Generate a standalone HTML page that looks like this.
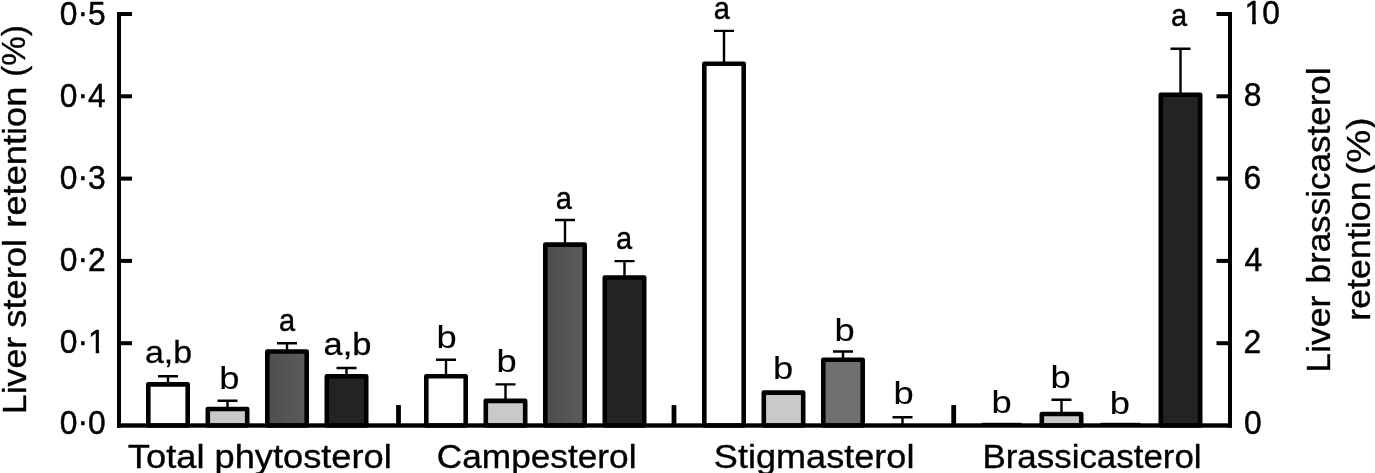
<!DOCTYPE html>
<html lang="en"><head><meta charset="utf-8"><title>Liver sterol retention</title>
<style>html,body{margin:0;padding:0;background:#fff}body{width:1375px;height:473px;overflow:hidden}svg{display:block}text{font-family:"Liberation Sans", Arial, Helvetica, sans-serif;fill:#000;stroke:#000}</style></head><body>
<svg width="1375" height="473" viewBox="0 0 1375 473">
<rect width="1375" height="473" fill="#fff"/>
<defs><linearGradient id="dg" x1="0" y1="0" x2="1" y2="0"><stop offset="0" stop-color="#4d4d4d"/><stop offset="1" stop-color="#5b5b5b"/></linearGradient></defs>
<path d="M168.0 384.4V376.2M158.0 376.2H178.0" stroke="#000" stroke-width="2.4" fill="none"/>
<rect x="148.30" y="384.40" width="39.40" height="41.10" fill="#ffffff" stroke="#000" stroke-width="4.6" stroke-linejoin="round"/>
<path d="M227.5 409.1V400.8M217.5 400.8H237.5" stroke="#000" stroke-width="2.4" fill="none"/>
<rect x="207.80" y="409.06" width="39.40" height="16.44" fill="#c9c9c9" stroke="#000" stroke-width="4.6" stroke-linejoin="round"/>
<path d="M287.0 351.5V343.3M277.0 343.3H297.0" stroke="#000" stroke-width="2.4" fill="none"/>
<rect x="267.30" y="351.52" width="39.40" height="73.98" fill="url(#dg)" stroke="#000" stroke-width="4.6" stroke-linejoin="round"/>
<path d="M346.5 376.2V368.0M336.5 368.0H356.5" stroke="#000" stroke-width="2.4" fill="none"/>
<rect x="326.80" y="376.18" width="39.40" height="49.32" fill="#232323" stroke="#000" stroke-width="4.6" stroke-linejoin="round"/>
<path d="M446.0 376.2V359.7M436.0 359.7H456.0" stroke="#000" stroke-width="2.4" fill="none"/>
<rect x="426.30" y="376.18" width="39.40" height="49.32" fill="#ffffff" stroke="#000" stroke-width="4.6" stroke-linejoin="round"/>
<path d="M505.5 400.8V384.4M495.5 384.4H515.5" stroke="#000" stroke-width="2.4" fill="none"/>
<rect x="485.80" y="400.84" width="39.40" height="24.66" fill="#c9c9c9" stroke="#000" stroke-width="4.6" stroke-linejoin="round"/>
<path d="M565.0 244.7V220.0M555.0 220.0H575.0" stroke="#000" stroke-width="2.4" fill="none"/>
<rect x="545.30" y="244.66" width="39.40" height="180.84" fill="url(#dg)" stroke="#000" stroke-width="4.6" stroke-linejoin="round"/>
<path d="M624.5 277.5V261.1M614.5 261.1H634.5" stroke="#000" stroke-width="2.4" fill="none"/>
<rect x="604.80" y="277.54" width="39.40" height="147.96" fill="#232323" stroke="#000" stroke-width="4.6" stroke-linejoin="round"/>
<path d="M724.0 63.8V30.9M714.0 30.9H734.0" stroke="#000" stroke-width="2.4" fill="none"/>
<rect x="704.30" y="63.82" width="39.40" height="361.68" fill="#ffffff" stroke="#000" stroke-width="4.6" stroke-linejoin="round"/>
<rect x="763.80" y="392.62" width="39.40" height="32.88" fill="#c9c9c9" stroke="#000" stroke-width="4.6" stroke-linejoin="round"/>
<path d="M843.0 359.7V351.5M833.0 351.5H853.0" stroke="#000" stroke-width="2.4" fill="none"/>
<rect x="823.30" y="359.74" width="39.40" height="65.76" fill="#707070" stroke="#000" stroke-width="4.6" stroke-linejoin="round"/>
<path d="M902.5 425.5V417.3M892.5 417.3H912.5" stroke="#000" stroke-width="2.4" fill="none"/>
<path d="M1061.5 414.0V399.7M1051.5 399.7H1071.5" stroke="#000" stroke-width="2.4" fill="none"/>
<rect x="1041.80" y="413.99" width="39.40" height="11.51" fill="#c9c9c9" stroke="#000" stroke-width="4.6" stroke-linejoin="round"/>
<path d="M1180.5 94.8V48.7M1170.5 48.7H1190.5" stroke="#000" stroke-width="2.4" fill="none"/>
<rect x="1160.80" y="94.81" width="39.40" height="330.69" fill="#232323" stroke="#000" stroke-width="4.6" stroke-linejoin="round"/>
<g fill="#000">
<rect x="117" y="12" width="4" height="415.7"/>
<rect x="117" y="423.3" width="1115" height="4.4"/>
<rect x="1228" y="12" width="4" height="415.7"/>
<rect x="117" y="341.2" width="15" height="4"/>
<rect x="1216.5" y="341.2" width="15" height="4"/>
<rect x="117" y="258.9" width="15" height="4"/>
<rect x="1216.5" y="258.9" width="15" height="4"/>
<rect x="117" y="176.6" width="15" height="4"/>
<rect x="1216.5" y="176.6" width="15" height="4"/>
<rect x="117" y="94.3" width="15" height="4"/>
<rect x="1216.5" y="94.3" width="15" height="4"/>
<rect x="117" y="12.0" width="15" height="4"/>
<rect x="1216.5" y="12.0" width="15" height="4"/>
<rect x="396.1" y="405.1" width="4.8" height="20"/>
<rect x="671.6" y="405.1" width="4.8" height="20"/>
<rect x="951.3" y="405.1" width="4.8" height="20"/>
<rect x="981.5" y="422.8" width="40" height="2"/>
<rect x="1100.5" y="422.8" width="40" height="2"/>
</g>
<text transform="translate(144.93 363.30) scale(1.0591 1)" font-size="32.0" stroke-width="0.30">a,b</text>
<text transform="translate(219.25 388.99) scale(1.1354 1)" font-size="32.0" stroke-width="0.12">b</text>
<text transform="translate(279.04 330.90) scale(0.9059 1)" font-size="32.0" stroke-width="0.50">a</text>
<text transform="translate(323.51 354.80) scale(1.0780 1)" font-size="32.0" stroke-width="0.30">a,b</text>
<text transform="translate(436.55 348.19) scale(1.1354 1)" font-size="32.0" stroke-width="0.12">b</text>
<text transform="translate(496.55 372.09) scale(1.1354 1)" font-size="32.0" stroke-width="0.12">b</text>
<text transform="translate(555.74 209.20) scale(0.9059 1)" font-size="32.0" stroke-width="0.50">a</text>
<text transform="translate(615.94 248.80) scale(0.9059 1)" font-size="32.0" stroke-width="0.50">a</text>
<text transform="translate(713.79 18.50) scale(0.9059 1)" font-size="32.0" stroke-width="0.50">a</text>
<text transform="translate(773.05 379.49) scale(1.1354 1)" font-size="32.0" stroke-width="0.12">b</text>
<text transform="translate(834.45 340.69) scale(1.1354 1)" font-size="32.0" stroke-width="0.12">b</text>
<text transform="translate(893.55 404.09) scale(1.1354 1)" font-size="32.0" stroke-width="0.12">b</text>
<text transform="translate(991.55 412.59) scale(1.1354 1)" font-size="32.0" stroke-width="0.12">b</text>
<text transform="translate(1050.45 388.29) scale(1.1354 1)" font-size="32.0" stroke-width="0.12">b</text>
<text transform="translate(1109.65 413.69) scale(1.1354 1)" font-size="32.0" stroke-width="0.12">b</text>
<text transform="translate(1170.99 26.20) scale(0.9059 1)" font-size="32.0" stroke-width="0.50">a</text>
<text transform="translate(59.69 433.50) scale(0.9850 1)" font-size="32.3" stroke-width="0.45">0<tspan dy="-1.3">·</tspan><tspan dy="1.3">0</tspan></text>
<text transform="translate(1243.99 434.20) scale(0.9850 1)" font-size="32.3" stroke-width="0.45">0</text>
<text transform="translate(59.69 352.80) scale(0.9850 1)" font-size="32.3" stroke-width="0.45">0<tspan dy="-1.3">·</tspan><tspan dy="1.3">1</tspan></text>
<text transform="translate(1243.50 352.80) scale(0.9850 1)" font-size="32.3" stroke-width="0.45">2</text>
<text transform="translate(59.69 270.70) scale(0.9850 1)" font-size="32.3" stroke-width="0.45">0<tspan dy="-1.3">·</tspan><tspan dy="1.3">2</tspan></text>
<text transform="translate(1244.48 270.90) scale(0.9850 1)" font-size="32.3" stroke-width="0.45">4</text>
<text transform="translate(59.69 188.70) scale(0.9850 1)" font-size="32.3" stroke-width="0.45">0<tspan dy="-1.3">·</tspan><tspan dy="1.3">3</tspan></text>
<text transform="translate(1243.50 188.60) scale(0.9850 1)" font-size="32.3" stroke-width="0.45">6</text>
<text transform="translate(59.69 106.60) scale(0.9850 1)" font-size="32.3" stroke-width="0.45">0<tspan dy="-1.3">·</tspan><tspan dy="1.3">4</tspan></text>
<text transform="translate(1243.74 106.30) scale(0.9850 1)" font-size="32.3" stroke-width="0.45">8</text>
<text transform="translate(59.69 24.60) scale(0.9850 1)" font-size="32.3" stroke-width="0.45">0<tspan dy="-1.3">·</tspan><tspan dy="1.3">5</tspan></text>
<text transform="translate(1244.56 24.00) scale(0.9850 1)" font-size="32.3" stroke-width="0.45">10</text>
<text transform="translate(127.87 467.50) scale(1.0890 1)" font-size="33.3" stroke-width="0.35">Total phytosterol</text>
<text transform="translate(436.83 467.50) scale(1.0578 1)" font-size="33.3" stroke-width="0.35">Campesterol</text>
<text transform="translate(713.86 467.50) scale(1.0837 1)" font-size="33.3" stroke-width="0.35">Stigmasterol</text>
<text transform="translate(982.40 467.50) scale(1.0487 1)" font-size="33.3" stroke-width="0.35">Brassicasterol</text>
<text transform="translate(25.80 414.22) rotate(-90) scale(1.0576 1)" font-size="33.8" stroke-width="0.35">Liver</text>
<text transform="translate(25.80 327.79) rotate(-90) scale(1.0766 1)" font-size="33.8" stroke-width="0.35">sterol</text>
<text transform="translate(25.80 227.63) rotate(-90) scale(1.0726 1)" font-size="33.8" stroke-width="0.35">retention</text>
<text transform="translate(24.50 76.79) rotate(-90) scale(0.9826 1)" font-size="33.8" stroke-width="0.35">(%)</text>
<text transform="translate(1330.20 372.68) rotate(-90) scale(1.0787 1)" font-size="33.0" stroke-width="0.35">Liver</text>
<text transform="translate(1330.20 283.50) rotate(-90) scale(1.0620 1)" font-size="33.0" stroke-width="0.35">brassicasterol</text>
<text transform="translate(1369.90 320.75) rotate(-90) scale(1.0856 1)" font-size="33.0" stroke-width="0.35">retention</text>
<text transform="translate(1369.90 175.05) rotate(-90) scale(1.1239 1)" font-size="33.0" stroke-width="0.35">(%)</text>
<g fill="#fff">
<rect x="89.3" y="349.5" width="6.4" height="4.6"/><rect x="99.2" y="349.5" width="6.2" height="4.6"/>
<rect x="1245.3" y="20.7" width="6.8" height="4.6"/><rect x="1255.9" y="20.7" width="5.8" height="4.6"/>
</g>
</svg></body></html>
